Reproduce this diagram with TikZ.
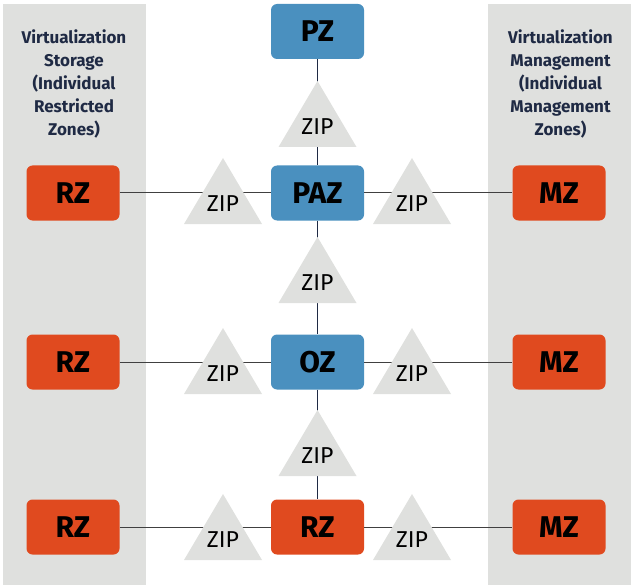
\documentclass[tikz,border=0pt]{standalone}
\usepackage{fontspec}
\setmainfont{Fira Sans}
\usetikzlibrary{positioning}
\definecolor{panelgray}{HTML}{DFE0DE}
\definecolor{zoneblue}{HTML}{4A90BF}
\definecolor{zonered}{HTML}{E04A1F}
\definecolor{navy}{HTML}{1F2A44}

\begin{document}
\begin{tikzpicture}[x=1pt,y=-1pt,
 zone/.style={rounded corners=6pt,minimum width=93pt,minimum height=55pt,inner sep=0pt,font=\fontsize{30}{30}\selectfont\bfseries},
 bluezone/.style={zone,fill=zoneblue},
 redzone/.style={zone,fill=zonered},
 ziptext/.style={font=\fontsize{23}{23}\selectfont,inner sep=0pt},
 paneltext/.style={align=center,text=navy,font=\fontsize{17}{23}\selectfont\bfseries},
 link/.style={black!75,line width=1pt},
 vlink/.style={navy,line width=1.6pt}]
\useasboundingbox (0,0) rectangle (634,588);
\fill[panelgray] (3,4) rectangle (146,585);
\fill[panelgray] (488,4) rectangle (631,585);
\node[paneltext] (storage) at (74,83.5) {Virtualization\\Storage\\(Individual\\Restricted\\Zones)};
\node[paneltext] (management) at (560.5,83.5) {Virtualization\\Management\\(Individual\\Management\\Zones)};
\node[bluezone] (pz) at (317.5,31.5) {PZ};
\node[bluezone] (paz) at (317.5,193) {PAZ};
\node[bluezone] (oz) at (317.5,362) {OZ};
\node[redzone] (rz) at (317.5,527) {RZ};
\foreach \n/\y/\c in {1/193/paz,2/362/oz,3/527/rz}{
 \node[redzone] (rz\n) at (73,\y) {RZ};
 \node[redzone] (mz\n) at (559,\y) {MZ};
 \draw[link] (rz\n.east) -- (\c.west);
 \draw[link] (\c.east) -- (mz\n.west);
}
\draw[vlink] (pz.south) -- (paz.north);
\draw[vlink] (paz.south) -- (oz.north);
\draw[vlink] (oz.south) -- (rz.north);
\foreach \t/\cx/\cy in {zipa/317.5/114,zipb/317.5/270,zipc/317.5/443,
 zipl1/223/191,zipr1/412/191,zipl2/223/361,zipr2/412/361,zipl3/223/527,zipr3/412/527}{
 \fill[panelgray] (\cx-39,\cy+33) -- (\cx+39,\cy+33) -- (\cx,\cy-33) -- cycle;
 \node[ziptext] (\t) at (\cx,\cy+13) {ZIP};
}
\end{tikzpicture}
\end{document}
